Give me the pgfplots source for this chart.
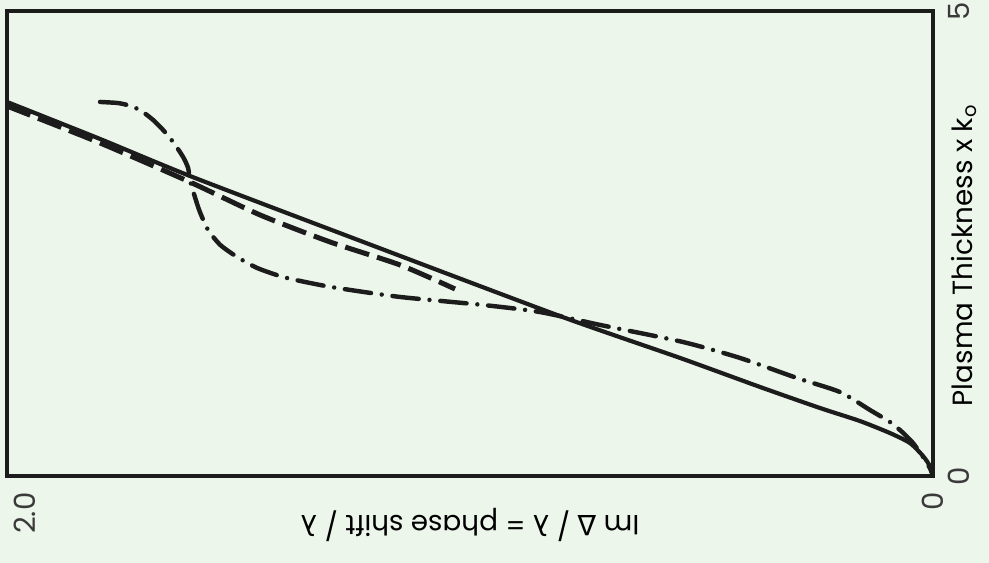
\documentclass[border=0pt]{standalone}
\usepackage{pgfplots}
\pgfplotsset{compat=1.18}
\usepackage{fontspec}
\setmainfont{Poppins}
\newfontfamily\greek{DejaVu Sans}
\definecolor{bg}{RGB}{236,246,234}
\definecolor{ink}{RGB}{28,28,28}
\definecolor{txt}{RGB}{58,58,58}
\begin{document}
\begin{tikzpicture}[x=1pt,y=1pt]
\fill[bg] (-2.52,-31.32) rectangle (353.52,171.36);
\begin{axis}[
  at={(0,0)}, anchor=south west,
  width=333.36pt, height=167.4pt, scale only axis,
  xmin=0, xmax=2.04, x dir=reverse,
  ymin=0, ymax=5,
  xtick={0,2}, xticklabels={0,2.0},
  ytick={0,5}, yticklabels={0,5},
  yticklabel pos=right,
  major tick length=0pt,
  axis line style={ink, line width=1.6pt, line join=miter},
  tick label style={font=\fontsize{10.5}{12}\selectfont, text=txt},
  xticklabel style={rotate=90, anchor=east, inner xsep=5.8pt, inner ysep=0pt},
  yticklabel style={rotate=90, anchor=north, inner ysep=5.4pt, inner xsep=0pt},
  label style={font=\fontsize{10.5}{12}\selectfont, text=txt},
  xlabel={Im {\greek Δ} / {\greek λ} = phase shift / {\greek λ}},
  ylabel={Plasma Thickness x k\textsubscript{o}},
  every axis x label/.style={at={(rel axis cs:0.5,0)}, yshift=-17.6pt, rotate=180, anchor=center},
  every axis y label/.style={at={(rel axis cs:1,0.475)}, rotate=90, anchor=north, inner ysep=6.5pt, inner xsep=0pt},
]
% solid
\addplot[ink, line width=1.5pt, smooth, tension=0.4] coordinates {
 (2.040,4.022) (1.835,3.624) (1.637,3.226) (1.284,2.570) (0.822,1.720)
 (0.557,1.269) (0.381,0.957) (0.249,0.731) (0.161,0.591) (0.095,0.462)
 (0.051,0.355) (0.022,0.215) (0.007,0.108) (0,0)
};
% dashed
\addplot[ink, line width=1.8pt, dash pattern=on 9pt off 3pt, smooth, tension=0.4] coordinates {
 (2.040,3.978) (1.835,3.581) (1.637,3.161) (1.482,2.806) (1.328,2.516)
 (1.174,2.269) (1.053,2.011)
};
% dash-dot
\addplot[ink, line width=1.6pt, line cap=round, dash pattern=on 9.5pt off 3.9pt on 0pt off 3.9pt, smooth, tension=0.4] coordinates {
 (1.835,4.022) (1.797,4.011) (1.775,3.989) (1.747,3.935) (1.718,3.828)
 (1.696,3.720) (1.674,3.591) (1.652,3.430) (1.641,3.312) (1.637,3.183)
 (1.626,3.000) (1.615,2.839) (1.597,2.645) (1.570,2.484) (1.533,2.355)
 (1.489,2.237) (1.432,2.140) (1.372,2.075) (1.313,2.022) (1.174,1.925)
 (0.991,1.839) (0.866,1.763) (0.733,1.624) (0.551,1.441) (0.425,1.269)
 (0.300,1.054) (0.205,0.903) (0.139,0.710) (0.095,0.581) (0.068,0.473)
 (0.044,0.355) (0.022,0.204) (0.007,0.086) (0,0)
};
\end{axis}
\pgfresetboundingbox
\path (-2.52,-31.32) rectangle (353.52,171.36);
\end{tikzpicture}
\end{document}
